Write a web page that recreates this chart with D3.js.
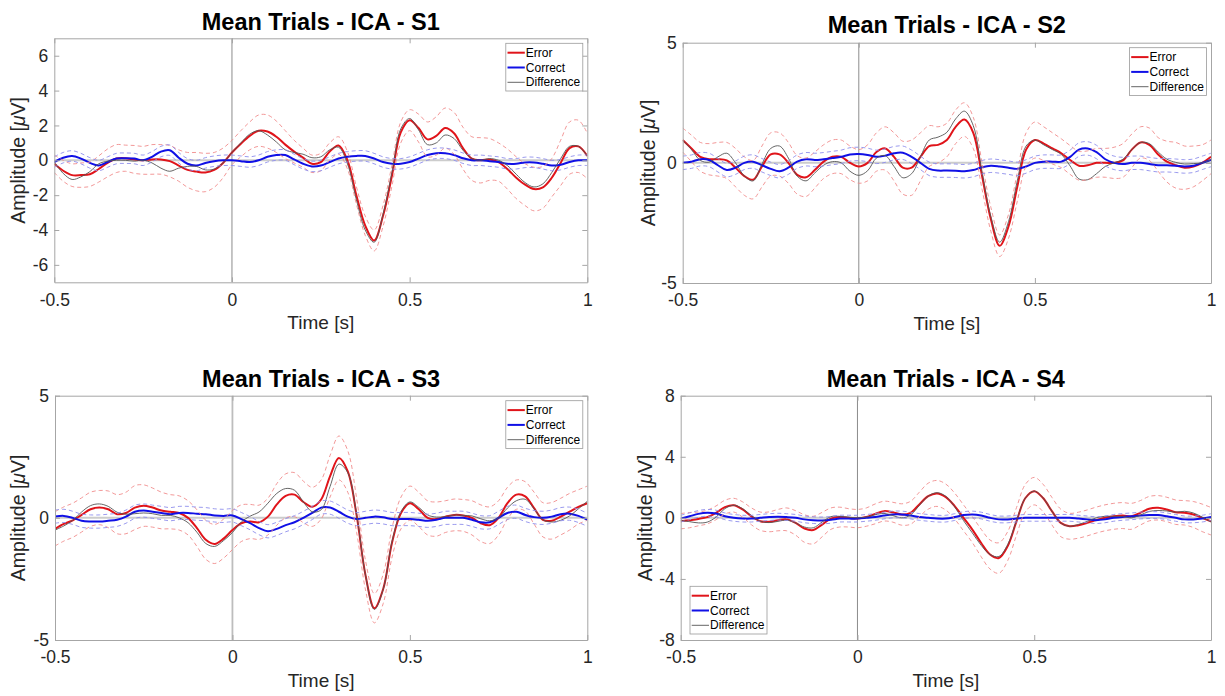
<!DOCTYPE html>
<html>
<head>
<meta charset="utf-8">
<script src="https://cdn.jsdelivr.net/npm/d3@7"></script>
<style>
  body { margin: 0; background: #fff; }
  text { font-family: 'Liberation Sans', Arial, sans-serif; }
</style>
</head>
<body>
<script>
// sample times (s)
const time = [-0.5, -0.475, -0.45, -0.425, -0.4, -0.375, -0.35, -0.325, -0.3, -0.275, -0.25, -0.225, -0.2, -0.175, -0.15, -0.125, -0.1, -0.075, -0.05, -0.025, 0, 0.025, 0.05, 0.075, 0.1, 0.125, 0.15, 0.175, 0.2, 0.225, 0.25, 0.275, 0.3, 0.325, 0.35, 0.375, 0.4, 0.425, 0.45, 0.475, 0.5, 0.525, 0.55, 0.575, 0.6, 0.625, 0.65, 0.675, 0.7, 0.725, 0.75, 0.775, 0.8, 0.825, 0.85, 0.875, 0.9, 0.925, 0.95, 0.975, 1]
const xTicks = [-0.5, 0, 0.5, 1]
const legendLabels = ['Error', 'Correct', 'Difference']

// S1
const s1Error = [-0.2, -0.6, -0.85, -0.85, -0.8, -0.5, -0.15, 0.1, 0.12, 0.05, 0.0, 0.05, 0.05, -0.05, -0.3, -0.55, -0.65, -0.7, -0.55, -0.15, 0.45, 0.95, 1.4, 1.7, 1.65, 1.35, 0.9, 0.5, 0.15, -0.2, -0.1, 0.5, 0.85, 0.0, -2.0, -3.75, -4.6, -3.2, -0.9, 1.6, 2.3, 1.85, 1.2, 1.4, 1.85, 1.55, 0.7, 0.1, 0.0, 0.05, -0.1, -0.5, -1.0, -1.4, -1.65, -1.55, -1.0, -0.15, 0.7, 0.8, 0.25]
const s1Correct = [-0.1, 0.15, 0.25, 0.1, -0.15, -0.3, -0.1, 0.1, 0.12, 0.1, 0.0, 0.2, 0.5, 0.58, 0.15, -0.2, -0.3, -0.15, -0.05, 0.0, 0.0, -0.05, -0.1, 0.0, 0.2, 0.3, 0.3, 0.05, -0.2, -0.35, -0.3, -0.1, 0.1, 0.2, 0.25, 0.25, 0.1, -0.1, -0.2, -0.2, -0.1, 0.1, 0.3, 0.4, 0.4, 0.3, 0.12, 0.0, 0.0, -0.05, -0.1, -0.2, -0.2, -0.12, -0.12, -0.2, -0.3, -0.25, -0.1, 0.0, 0.0]
const s1Difference = [-0.1, -0.75, -1.1, -0.95, -0.65, -0.2, -0.05, 0.0, 0.0, -0.05, 0.0, -0.15, -0.45, -0.63, -0.45, -0.35, -0.35, -0.55, -0.5, -0.15, 0.45, 1.0, 1.5, 1.7, 1.45, 1.05, 0.6, 0.45, 0.35, 0.15, 0.2, 0.6, 0.75, -0.2, -2.25, -4.0, -4.7, -3.1, -0.7, 1.8, 2.4, 1.75, 0.9, 1.0, 1.45, 1.25, 0.58, 0.1, 0.0, 0.1, 0.0, -0.3, -0.8, -1.28, -1.53, -1.35, -0.7, 0.1, 0.8, 0.8, 0.25]
const s1ErrorUpper = [0.3, 0.0, -0.2, -0.15, -0.1, 0.25, 0.65, 0.9, 0.87, 0.85, 0.8, 0.9, 0.9, 0.85, 0.6, 0.45, 0.45, 0.4, 0.45, 0.7, 1.15, 1.7, 2.2, 2.6, 2.6, 2.25, 1.7, 1.15, 0.7, 0.3, 0.4, 1.0, 1.35, 0.5, -1.5, -3.2, -4.0, -2.6, -0.3, 2.2, 2.9, 2.65, 2.2, 2.5, 3.0, 2.75, 1.9, 1.35, 1.3, 1.25, 1.0, 0.65, 0.2, -0.2, -0.4, -0.35, 0.1, 1.15, 2.2, 2.3, 1.55]
const s1ErrorLower = [-0.7, -1.2, -1.5, -1.55, -1.5, -1.25, -0.95, -0.7, -0.63, -0.75, -0.8, -0.8, -0.8, -0.95, -1.2, -1.55, -1.75, -1.8, -1.55, -1.0, -0.25, 0.2, 0.6, 0.8, 0.7, 0.45, 0.1, -0.15, -0.4, -0.7, -0.6, 0.0, 0.35, -0.5, -2.5, -4.3, -5.2, -3.8, -1.5, 1.0, 1.7, 1.05, 0.2, 0.3, 0.7, 0.35, -0.5, -1.15, -1.3, -1.15, -1.2, -1.65, -2.2, -2.6, -2.9, -2.75, -2.1, -1.45, -0.8, -0.7, -1.05]
const s1CorrectUpper = [0.2, 0.45, 0.55, 0.4, 0.15, 0.0, 0.2, 0.4, 0.42, 0.4, 0.3, 0.5, 0.8, 0.88, 0.45, 0.1, 0.0, 0.15, 0.25, 0.3, 0.3, 0.25, 0.2, 0.3, 0.5, 0.6, 0.6, 0.35, 0.1, -0.05, 0.0, 0.2, 0.4, 0.5, 0.55, 0.55, 0.4, 0.2, 0.1, 0.1, 0.2, 0.4, 0.6, 0.7, 0.7, 0.6, 0.42, 0.3, 0.3, 0.25, 0.2, 0.1, 0.1, 0.18, 0.18, 0.1, 0.0, 0.05, 0.2, 0.3, 0.3]
const s1CorrectLower = [-0.4, -0.15, -0.05, -0.2, -0.45, -0.6, -0.4, -0.2, -0.18, -0.2, -0.3, -0.1, 0.2, 0.28, -0.15, -0.5, -0.6, -0.45, -0.35, -0.3, -0.3, -0.35, -0.4, -0.3, -0.1, 0.0, 0.0, -0.25, -0.5, -0.65, -0.6, -0.4, -0.2, -0.1, -0.05, -0.05, -0.2, -0.4, -0.5, -0.5, -0.4, -0.2, 0.0, 0.1, 0.1, 0.0, -0.18, -0.3, -0.3, -0.35, -0.4, -0.5, -0.5, -0.42, -0.42, -0.5, -0.6, -0.55, -0.4, -0.3, -0.3]

// S2
const s2Error = [0.95, 0.6, 0.25, 0.15, 0.15, 0.1, -0.2, -0.55, -0.7, -0.15, 0.35, 0.35, 0.0, -0.5, -0.6, -0.3, 0.05, 0.25, 0.25, 0.0, -0.15, 0.0, 0.45, 0.6, 0.25, -0.2, -0.2, 0.25, 0.7, 0.75, 0.95, 1.5, 1.8, 1.25, -0.55, -2.35, -3.45, -2.65, -1.0, 0.55, 0.95, 0.8, 0.6, 0.4, 0.12, -0.12, -0.1, 0.0, 0.0, 0.0, 0.1, 0.55, 0.85, 0.75, 0.35, 0.05, -0.1, -0.2, -0.15, 0.0, 0.25]
const s2Correct = [0.0, 0.05, 0.15, 0.12, -0.1, -0.3, -0.2, 0.0, 0.05, -0.1, -0.25, -0.35, -0.2, 0.05, 0.15, 0.12, 0.15, 0.2, 0.25, 0.35, 0.37, 0.33, 0.25, 0.3, 0.4, 0.42, 0.25, 0.0, -0.25, -0.32, -0.32, -0.33, -0.35, -0.3, -0.18, -0.12, -0.15, -0.2, -0.25, -0.15, 0.0, 0.05, 0.05, 0.05, 0.25, 0.55, 0.6, 0.45, 0.15, 0.0, -0.05, 0.0, 0.0, -0.05, -0.1, -0.1, -0.12, -0.15, -0.12, 0.0, 0.12]
const s2Difference = [0.95, 0.55, 0.1, 0.03, 0.25, 0.4, 0.0, -0.55, -0.75, -0.05, 0.6, 0.7, 0.2, -0.55, -0.75, -0.42, -0.1, 0.05, 0.0, -0.35, -0.52, -0.33, 0.2, 0.3, -0.15, -0.62, -0.45, 0.25, 0.95, 1.07, 1.27, 1.83, 2.15, 1.55, -0.37, -2.23, -3.3, -2.45, -0.75, 0.7, 0.95, 0.75, 0.55, 0.35, -0.13, -0.67, -0.7, -0.45, -0.15, 0.0, 0.15, 0.55, 0.85, 0.8, 0.45, 0.15, 0.02, -0.05, -0.03, 0.0, 0.13]
const s2ErrorUpper = [1.45, 1.15, 0.85, 0.8, 0.85, 0.85, 0.6, 0.25, 0.1, 0.7, 1.25, 1.25, 0.85, 0.3, 0.2, 0.45, 0.75, 0.95, 0.95, 0.7, 0.55, 0.75, 1.25, 1.5, 1.25, 0.9, 0.95, 1.25, 1.55, 1.5, 1.65, 2.2, 2.5, 1.9, 0.0, -1.85, -3.0, -2.15, -0.4, 1.25, 1.7, 1.5, 1.25, 1.0, 0.72, 0.48, 0.5, 0.6, 0.6, 0.65, 0.8, 1.2, 1.5, 1.45, 1.05, 0.9, 0.85, 0.7, 0.7, 0.75, 0.95]
const s2ErrorLower = [0.45, 0.05, -0.35, -0.5, -0.55, -0.65, -1.0, -1.35, -1.5, -1.0, -0.55, -0.55, -0.85, -1.3, -1.4, -1.05, -0.65, -0.45, -0.45, -0.7, -0.85, -0.75, -0.35, -0.3, -0.75, -1.3, -1.35, -0.75, -0.15, 0.0, 0.25, 0.8, 1.1, 0.6, -1.1, -2.85, -3.9, -3.15, -1.6, -0.15, 0.2, 0.1, -0.05, -0.2, -0.48, -0.72, -0.7, -0.6, -0.6, -0.65, -0.6, -0.2, 0.2, 0.1, -0.35, -0.8, -1.05, -1.1, -1.0, -0.75, -0.45]
const s2CorrectUpper = [0.28, 0.33, 0.43, 0.4, 0.18, -0.02, 0.08, 0.28, 0.33, 0.18, 0.03, -0.07, 0.08, 0.33, 0.43, 0.4, 0.43, 0.48, 0.53, 0.63, 0.65, 0.61, 0.53, 0.58, 0.68, 0.7, 0.53, 0.28, 0.03, -0.04, -0.04, -0.05, -0.07, -0.02, 0.1, 0.16, 0.13, 0.08, 0.03, 0.13, 0.28, 0.33, 0.33, 0.33, 0.53, 0.83, 0.88, 0.73, 0.43, 0.28, 0.23, 0.28, 0.28, 0.23, 0.18, 0.18, 0.16, 0.13, 0.16, 0.28, 0.4]
const s2CorrectLower = [-0.28, -0.23, -0.13, -0.16, -0.38, -0.58, -0.48, -0.28, -0.23, -0.38, -0.53, -0.63, -0.48, -0.23, -0.13, -0.16, -0.13, -0.08, -0.03, 0.07, 0.09, 0.05, -0.03, 0.02, 0.12, 0.14, -0.03, -0.28, -0.53, -0.6, -0.6, -0.61, -0.63, -0.58, -0.46, -0.4, -0.43, -0.48, -0.53, -0.43, -0.28, -0.23, -0.23, -0.23, -0.03, 0.27, 0.32, 0.17, -0.13, -0.28, -0.33, -0.28, -0.28, -0.33, -0.38, -0.38, -0.4, -0.43, -0.4, -0.28, -0.16]

// S3
const s3Error = [-0.45, -0.25, -0.1, 0.12, 0.35, 0.42, 0.35, 0.15, 0.2, 0.42, 0.5, 0.42, 0.3, 0.25, 0.2, 0.0, -0.42, -0.9, -1.07, -0.85, -0.5, -0.22, -0.15, -0.18, 0.05, 0.55, 0.9, 0.95, 0.65, 0.45, 0.75, 1.7, 2.45, 1.9, 0.1, -2.35, -3.7, -2.9, -1.0, 0.2, 0.6, 0.35, 0.0, -0.05, 0.05, 0.12, 0.1, 0.0, -0.22, -0.3, 0.0, 0.6, 0.95, 0.88, 0.4, -0.08, -0.12, 0.05, 0.25, 0.45, 0.6]
const s3Correct = [0.05, 0.08, 0.0, -0.12, -0.15, -0.15, -0.12, -0.08, 0.05, 0.25, 0.3, 0.25, 0.2, 0.15, 0.2, 0.2, 0.17, 0.15, 0.1, 0.08, 0.1, -0.05, -0.22, -0.42, -0.55, -0.45, -0.3, -0.18, 0.0, 0.2, 0.42, 0.42, 0.25, 0.05, -0.05, 0.0, 0.05, 0.02, -0.05, -0.05, -0.05, -0.08, -0.12, -0.08, 0.0, 0.0, 0.0, -0.08, -0.18, -0.18, 0.0, 0.2, 0.25, 0.12, 0.03, 0.0, 0.05, 0.15, 0.17, 0.08, -0.08]
const s3Difference = [-0.5, -0.33, -0.1, 0.24, 0.5, 0.57, 0.47, 0.23, 0.15, 0.17, 0.2, 0.17, 0.1, 0.1, 0.0, -0.2, -0.59, -1.05, -1.17, -0.93, -0.6, -0.17, 0.07, 0.24, 0.6, 1.0, 1.2, 1.13, 0.65, 0.25, 0.33, 1.28, 2.2, 1.85, 0.15, -2.35, -3.75, -2.92, -0.95, 0.25, 0.65, 0.43, 0.12, 0.03, 0.05, 0.12, 0.1, 0.08, -0.04, -0.12, 0.0, 0.4, 0.7, 0.76, 0.37, -0.08, -0.17, -0.1, 0.08, 0.37, 0.68]
const s3ErrorUpper = [0.25, 0.45, 0.6, 0.82, 1.05, 1.12, 1.1, 0.95, 1.05, 1.32, 1.35, 1.22, 1.05, 0.95, 0.9, 0.7, 0.33, -0.1, -0.27, -0.05, 0.3, 0.53, 0.55, 0.52, 0.8, 1.4, 1.8, 1.85, 1.5, 1.25, 1.55, 2.55, 3.35, 2.75, 0.8, -1.75, -3.1, -2.3, -0.4, 0.85, 1.3, 1.05, 0.7, 0.65, 0.7, 0.77, 0.75, 0.7, 0.53, 0.45, 0.7, 1.25, 1.55, 1.48, 1.05, 0.62, 0.63, 0.8, 1.0, 1.15, 1.3]
const s3ErrorLower = [-1.15, -0.95, -0.8, -0.58, -0.35, -0.28, -0.4, -0.65, -0.65, -0.48, -0.35, -0.38, -0.45, -0.45, -0.5, -0.7, -1.17, -1.7, -1.87, -1.65, -1.3, -0.97, -0.85, -0.88, -0.7, -0.3, 0.0, 0.05, -0.2, -0.35, -0.05, 0.85, 1.55, 1.05, -0.6, -2.95, -4.3, -3.5, -1.6, -0.45, -0.1, -0.35, -0.7, -0.75, -0.6, -0.53, -0.55, -0.7, -0.97, -1.05, -0.7, -0.05, 0.35, 0.28, -0.25, -0.78, -0.87, -0.7, -0.5, -0.25, -0.1]
const s3CorrectUpper = [0.32, 0.35, 0.27, 0.15, 0.12, 0.12, 0.15, 0.19, 0.32, 0.52, 0.57, 0.52, 0.47, 0.42, 0.47, 0.47, 0.44, 0.42, 0.37, 0.35, 0.37, 0.22, 0.05, -0.15, -0.28, -0.18, -0.03, 0.09, 0.27, 0.47, 0.69, 0.69, 0.52, 0.32, 0.22, 0.27, 0.32, 0.29, 0.22, 0.22, 0.22, 0.19, 0.15, 0.19, 0.27, 0.27, 0.27, 0.19, 0.09, 0.09, 0.27, 0.47, 0.52, 0.39, 0.3, 0.27, 0.32, 0.42, 0.44, 0.35, 0.19]
const s3CorrectLower = [-0.22, -0.19, -0.27, -0.39, -0.42, -0.42, -0.39, -0.35, -0.22, -0.02, 0.03, -0.02, -0.07, -0.12, -0.07, -0.07, -0.1, -0.12, -0.17, -0.19, -0.17, -0.32, -0.49, -0.69, -0.82, -0.72, -0.57, -0.45, -0.27, -0.07, 0.15, 0.15, -0.02, -0.22, -0.32, -0.27, -0.22, -0.25, -0.32, -0.32, -0.32, -0.35, -0.39, -0.35, -0.27, -0.27, -0.27, -0.35, -0.45, -0.45, -0.27, -0.07, -0.02, -0.15, -0.24, -0.27, -0.22, -0.12, -0.1, -0.19, -0.35]

// S4
const s4Error = [-0.22, -0.15, -0.07, 0.05, 0.33, 0.7, 0.83, 0.55, 0.1, -0.22, -0.26, -0.15, -0.1, -0.33, -0.7, -0.8, -0.44, -0.05, 0.05, 0.0, -0.05, 0.05, 0.26, 0.44, 0.37, 0.22, 0.33, 0.88, 1.42, 1.6, 1.36, 0.77, 0.0, -0.77, -1.65, -2.4, -2.63, -1.85, -0.22, 1.3, 1.75, 1.3, 0.44, -0.33, -0.55, -0.48, -0.33, -0.15, 0.0, 0.1, 0.15, 0.1, 0.33, 0.6, 0.66, 0.55, 0.37, 0.33, 0.22, 0.0, -0.22]
const s4Correct = [-0.05, 0.1, 0.26, 0.33, 0.28, 0.1, 0.0, -0.05, -0.05, 0.0, 0.05, 0.08, 0.05, 0.0, -0.1, -0.15, -0.17, -0.13, -0.05, -0.05, -0.05, 0.0, 0.06, 0.15, 0.22, 0.22, 0.15, 0.06, 0.0, -0.05, -0.05, 0.05, 0.18, 0.22, 0.15, 0.0, -0.1, -0.1, -0.05, 0.0, 0.0, 0.0, 0.0, 0.0, 0.0, -0.05, -0.1, -0.15, -0.1, 0.0, 0.06, 0.1, 0.15, 0.18, 0.18, 0.1, 0.0, -0.1, -0.1, -0.05, 0.05]
const s4Difference = [-0.17, -0.25, -0.33, -0.28, 0.05, 0.6, 0.83, 0.6, 0.15, -0.22, -0.31, -0.23, -0.15, -0.33, -0.6, -0.65, -0.27, 0.08, 0.1, 0.05, 0.0, 0.05, 0.2, 0.29, 0.15, 0.0, 0.18, 0.82, 1.42, 1.65, 1.41, 0.72, -0.18, -0.99, -1.8, -2.4, -2.53, -1.75, -0.17, 1.3, 1.75, 1.3, 0.44, -0.33, -0.55, -0.43, -0.23, 0.0, 0.1, 0.1, 0.09, 0.0, 0.18, 0.42, 0.48, 0.45, 0.37, 0.43, 0.32, 0.05, -0.27]
const s4ErrorUpper = [0.28, 0.35, 0.38, 0.5, 0.78, 1.15, 1.28, 1.05, 0.65, 0.38, 0.39, 0.55, 0.65, 0.47, 0.2, 0.1, 0.36, 0.65, 0.7, 0.6, 0.55, 0.65, 0.91, 1.09, 1.02, 0.92, 1.08, 1.68, 2.27, 2.45, 2.21, 1.62, 0.85, 0.08, -0.75, -1.45, -1.63, -0.9, 0.68, 2.2, 2.65, 2.2, 1.34, 0.57, 0.3, 0.37, 0.52, 0.7, 0.85, 0.95, 1.0, 0.95, 1.13, 1.4, 1.46, 1.35, 1.17, 1.13, 1.07, 0.9, 0.68]
const s4ErrorLower = [-0.72, -0.65, -0.52, -0.4, -0.12, 0.25, 0.38, 0.05, -0.45, -0.82, -0.91, -0.85, -0.85, -1.13, -1.6, -1.7, -1.24, -0.75, -0.6, -0.6, -0.65, -0.55, -0.39, -0.21, -0.28, -0.48, -0.42, 0.08, 0.57, 0.75, 0.51, -0.08, -0.85, -1.62, -2.55, -3.35, -3.63, -2.8, -1.12, 0.4, 0.85, 0.4, -0.46, -1.23, -1.4, -1.33, -1.18, -1.0, -0.85, -0.75, -0.7, -0.75, -0.47, -0.2, -0.14, -0.25, -0.43, -0.47, -0.63, -0.9, -1.12]
const s4CorrectUpper = [0.17, 0.32, 0.48, 0.55, 0.5, 0.32, 0.22, 0.17, 0.17, 0.22, 0.27, 0.3, 0.27, 0.22, 0.12, 0.07, 0.05, 0.09, 0.17, 0.17, 0.17, 0.22, 0.28, 0.37, 0.44, 0.44, 0.37, 0.28, 0.22, 0.17, 0.17, 0.27, 0.4, 0.44, 0.37, 0.22, 0.12, 0.12, 0.17, 0.22, 0.22, 0.22, 0.22, 0.22, 0.22, 0.17, 0.12, 0.07, 0.12, 0.22, 0.28, 0.32, 0.37, 0.4, 0.4, 0.32, 0.22, 0.12, 0.12, 0.17, 0.27]
const s4CorrectLower = [-0.27, -0.12, 0.04, 0.11, 0.06, -0.12, -0.22, -0.27, -0.27, -0.22, -0.17, -0.14, -0.17, -0.22, -0.32, -0.37, -0.39, -0.35, -0.27, -0.27, -0.27, -0.22, -0.16, -0.07, 0.0, 0.0, -0.07, -0.16, -0.22, -0.27, -0.27, -0.17, -0.04, 0.0, -0.07, -0.22, -0.32, -0.32, -0.27, -0.22, -0.22, -0.22, -0.22, -0.22, -0.22, -0.27, -0.32, -0.37, -0.32, -0.22, -0.16, -0.12, -0.07, -0.04, -0.04, -0.12, -0.22, -0.32, -0.32, -0.27, -0.17]

const panels = [
  { title: 'Mean Trials - ICA - S1', left: 54.3, right: 587.3, top: 38.3, bottom: 282.3, yDomain: [-7, 7], yTicks: [-6, -4, -2, 0, 2, 4, 6], labelX: 25.3, titleY: 30, legend: 'ne',
    error: s1Error, correct: s1Correct, diff: s1Difference, errHi: s1ErrorUpper, errLo: s1ErrorLower, corHi: s1CorrectUpper, corLo: s1CorrectLower },
  { title: 'Mean Trials - ICA - S2', left: 682.7, right: 1211, top: 42.7, bottom: 283, yDomain: [-5, 5], yTicks: [-5, 0, 5], labelX: 655, titleY: 33.3, legend: 'ne',
    error: s2Error, correct: s2Correct, diff: s2Difference, errHi: s2ErrorUpper, errLo: s2ErrorLower, corHi: s2CorrectUpper, corLo: s2CorrectLower },
  { title: 'Mean Trials - ICA - S3', left: 55, right: 587.3, top: 395.7, bottom: 640, yDomain: [-5, 5], yTicks: [-5, 0, 5], labelX: 25.3, titleY: 387.3, legend: 'ne',
    error: s3Error, correct: s3Correct, diff: s3Difference, errHi: s3ErrorUpper, errLo: s3ErrorLower, corHi: s3CorrectUpper, corLo: s3CorrectLower },
  { title: 'Mean Trials - ICA - S4', left: 680.7, right: 1211, top: 395.7, bottom: 640, yDomain: [-8, 8], yTicks: [-8, -4, 0, 4, 8], labelX: 652, titleY: 387.3, legend: 'sw',
    error: s4Error, correct: s4Correct, diff: s4Difference, errHi: s4ErrorUpper, errLo: s4ErrorLower, corHi: s4CorrectUpper, corLo: s4CorrectLower }
]

const RED = '#e0141a'
const BLUE = '#1010e6'
const GRAY = '#555555'
const AXIS = '#a6a6a6'
const TEXT = '#262626'

const svg = d3.select('body').append('svg')
  .attr('width', 1225)
  .attr('height', 696)

function drawPanel (p, i) {
  const x = d3.scaleLinear().domain([-0.5, 1]).range([p.left, p.right])
  const y = d3.scaleLinear().domain(p.yDomain).range([p.bottom, p.top])

  const clipId = 'clip' + i
  svg.append('clipPath').attr('id', clipId)
    .append('rect')
    .attr('x', p.left).attr('y', p.top)
    .attr('width', p.right - p.left).attr('height', p.bottom - p.top)

  const plot = svg.append('g').attr('clip-path', `url(#${clipId})`)

  // zero reference lines
  plot.append('line')
    .attr('x1', x(-0.5)).attr('x2', x(1))
    .attr('y1', y(0)).attr('y2', y(0))
    .attr('stroke', '#cccccc').attr('stroke-width', 2)
  plot.append('line')
    .attr('x1', x(0)).attr('x2', x(0))
    .attr('y1', p.top).attr('y2', p.bottom)
    .attr('stroke', i === 2 ? '#bdbdbd' : '#8c8c8c')
    .attr('stroke-width', i === 2 ? 1.8 : 1)

  const line = d3.line()
    .x((d, j) => x(time[j]))
    .y(d => y(d))
    .curve(d3.curveCatmullRom.alpha(0.5))

  const series = [
    { data: p.error, color: RED, width: 2 },
    { data: p.correct, color: BLUE, width: 2 },
    { data: p.diff, color: GRAY, width: 0.9 },
    { data: p.errHi, color: '#f08c8c', width: 0.9, dash: '4,3' },
    { data: p.errLo, color: '#f08c8c', width: 0.9, dash: '4,3' },
    { data: p.corHi, color: '#8f8fec', width: 0.9, dash: '4,3' },
    { data: p.corLo, color: '#8f8fec', width: 0.9, dash: '4,3' }
  ]

  plot.selectAll('path.series')
    .data(series)
    .enter()
    .append('path')
    .attr('class', 'series')
    .attr('d', d => line(d.data))
    .attr('fill', 'none')
    .attr('stroke', d => d.color)
    .attr('stroke-width', d => d.width)
    .attr('stroke-dasharray', d => d.dash || null)

  // axes, ticks inside on all four sides
  const fmt = d => String(d)
  const axes = [
    { axis: d3.axisBottom(x).tickValues(xTicks).tickFormat(fmt).tickPadding(11), at: `translate(0,${p.bottom})` },
    { axis: d3.axisTop(x).tickValues(xTicks).tickFormat(''), at: `translate(0,${p.top})` },
    { axis: d3.axisLeft(y).tickValues(p.yTicks).tickFormat(fmt).tickPadding(6), at: `translate(${p.left},0)` },
    { axis: d3.axisRight(y).tickValues(p.yTicks).tickFormat(''), at: `translate(${p.right},0)` }
  ]
  axes.forEach(a => {
    const g = svg.append('g')
      .attr('transform', a.at)
      .call(a.axis.tickSizeInner(-5).tickSizeOuter(0))
    g.select('.domain').attr('stroke', AXIS)
    g.selectAll('.tick line').attr('stroke', AXIS)
    g.selectAll('.tick text')
      .attr('fill', TEXT)
      .style('font-size', '17.5px')
      .style('font-family', "'Liberation Sans', Arial, sans-serif")
  })

  const midX = (p.left + p.right) / 2
  const midY = (p.top + p.bottom) / 2

  svg.append('text')
    .attr('x', midX).attr('y', p.titleY)
    .attr('text-anchor', 'middle')
    .style('font-size', '23.5px').style('font-weight', 'bold')
    .attr('fill', '#000')
    .text(p.title)

  svg.append('text')
    .attr('x', midX).attr('y', p.bottom + 47)
    .attr('text-anchor', 'middle')
    .style('font-size', '19px')
    .attr('fill', TEXT)
    .text('Time [s]')

  const yl = svg.append('text')
    .attr('transform', `translate(${p.labelX},${midY}) rotate(-90)`)
    .attr('text-anchor', 'middle')
    .style('font-size', '19.5px')
    .attr('fill', TEXT)
  yl.append('tspan').text('Amplitude [')
  yl.append('tspan').style('font-style', 'italic').text('\u03bc')
  yl.append('tspan').text('V]')

  // legend
  const lw = 77
  const lh = 47.7
  const lx = p.legend === 'ne' ? p.right - 4.5 - lw : p.left + 9.3
  const ly = p.legend === 'ne' ? p.top + 5 : p.bottom - 6 - lh
  const leg = svg.append('g').attr('transform', `translate(${lx},${ly})`)
  leg.append('rect')
    .attr('width', lw).attr('height', lh)
    .attr('fill', '#fff').attr('stroke', '#9a9a9a').attr('stroke-width', 0.8)
  const legendStyles = [
    { color: RED, width: 2 },
    { color: BLUE, width: 2 },
    { color: GRAY, width: 0.9 }
  ]
  legendLabels.forEach((label, k) => {
    const yy = 9.4 + k * 14.8
    leg.append('line')
      .attr('x1', 1.7).attr('x2', 19)
      .attr('y1', yy).attr('y2', yy)
      .attr('stroke', legendStyles[k].color)
      .attr('stroke-width', legendStyles[k].width)
    leg.append('text')
      .attr('x', 20).attr('y', yy + 4.2)
      .style('font-size', '12px')
      .attr('fill', '#000')
      .text(label)
  })
}

panels.forEach((p, i) => drawPanel(p, i))
</script>
</body>
</html>
